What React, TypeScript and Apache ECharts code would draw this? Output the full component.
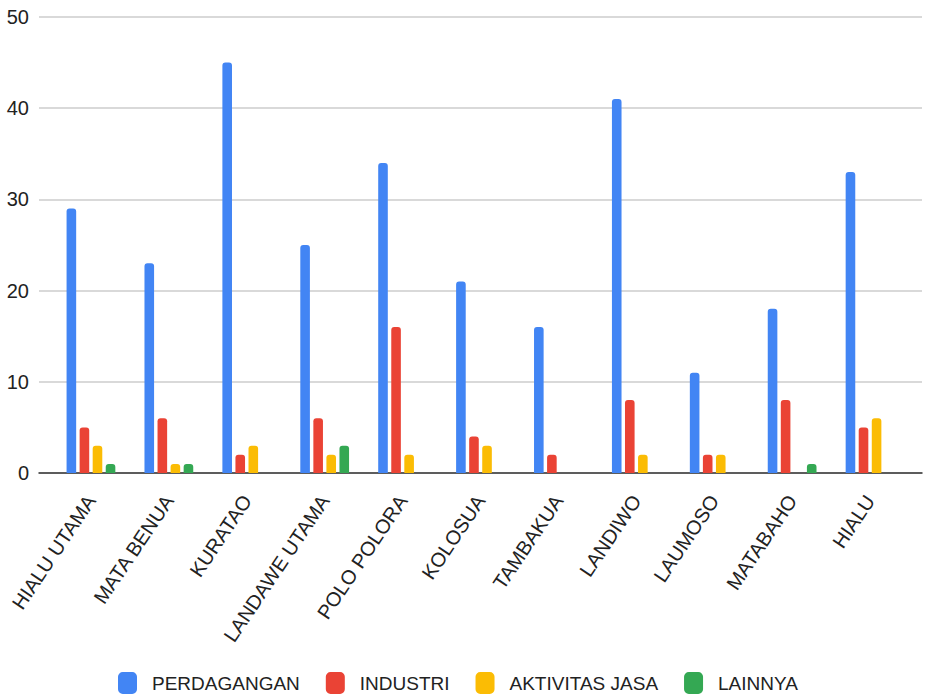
import React, { useEffect, useRef } from "react";
import * as echarts from "echarts";

const categories = [
  "HIALU UTAMA",
  "MATA BENUA",
  "KURATAO",
  "LANDAWE UTAMA",
  "POLO POLORA",
  "KOLOSUA",
  "TAMBAKUA",
  "LANDIWO",
  "LAUMOSO",
  "MATABAHO",
  "HIALU",
];
const perdagangan = [29, 23, 45, 25, 34, 21, 16, 41, 11, 18, 33];
const industri = [5, 6, 2, 6, 16, 4, 2, 8, 2, 8, 5];
const aktivitasJasa = [3, 1, 3, 2, 2, 3, 0, 2, 2, 0, 6];
const lainnya = [1, 1, 0, 3, 0, 0, 0, 0, 0, 1, 0];
const seriesNames = ["PERDAGANGAN", "INDUSTRI", "AKTIVITAS JASA", "LAINNYA"];
const colors = ["#4285F4", "#EA4335", "#FBBC04", "#34A853"];
const yTicks = { min: 0, max: 50, interval: 10 };

const FONT = "'Liberation Sans', Arial, sans-serif";

export default function App() {
  const ref = useRef<HTMLDivElement>(null);
  useEffect(() => {
    if (!ref.current) return;
    const chart = echarts.init(ref.current, undefined, { renderer: "svg" });
    const values = [perdagangan, industri, aktivitasJasa, lainnya];
    chart.setOption({
      animation: false,
      backgroundColor: "#ffffff",
      color: colors,
      grid: [
        { left: 39, right: 6, top: 17, bottom: 224 },
        { left: 52, right: 19, top: 17, bottom: 224 },
      ],
      legend: {
        data: seriesNames,
        left: 118,
        top: 672,
        padding: 0,
        icon: "roundRect",
        itemWidth: 19,
        itemHeight: 22,
        itemGap: 26,
        textStyle: {
          fontFamily: FONT,
          fontSize: 19,
          color: "#222",
          padding: [0, 0, 0, 10],
        },
      },
      xAxis: [
        {
          type: "category",
          gridIndex: 0,
          data: categories,
          axisLine: { show: true, lineStyle: { color: "#333", width: 1.5 } },
          axisTick: { show: false },
          axisLabel: { show: false },
          splitLine: { show: false },
        },
        {
          type: "category",
          gridIndex: 1,
          data: categories,
          axisLine: { show: false },
          axisTick: { show: false },
          axisLabel: {
            interval: 0,
            rotate: 56,
            margin: 24,
            fontFamily: FONT,
            fontSize: 20,
            color: "#222",
          },
        },
      ],
      yAxis: [
        {
          type: "value",
          gridIndex: 0,
          min: yTicks.min,
          max: yTicks.max,
          interval: yTicks.interval,
          axisLine: { show: false },
          axisTick: { show: false },
          axisLabel: {
            margin: 10,
            fontFamily: FONT,
            fontSize: 20,
            color: "#222",
          },
          splitLine: { lineStyle: { color: "#cccccc", width: 1.5 } },
        },
        {
          type: "value",
          gridIndex: 1,
          min: yTicks.min,
          max: yTicks.max,
          interval: yTicks.interval,
          show: false,
          splitLine: { show: false },
        },
      ],
      series: seriesNames.map((name, i) => ({
        name,
        type: "bar",
        xAxisIndex: 1,
        yAxisIndex: 1,
        data: values[i],
        barWidth: 9.6,
        barGap: "36%",
        itemStyle: { color: colors[i], borderRadius: [3, 3, 0, 0] },
      })),
    });
    return () => chart.dispose();
  }, []);
  return (
    <div
      ref={ref}
      style={{ position: "fixed", left: 0, top: 0, width: 928, height: 697 }}
    />
  );
}
